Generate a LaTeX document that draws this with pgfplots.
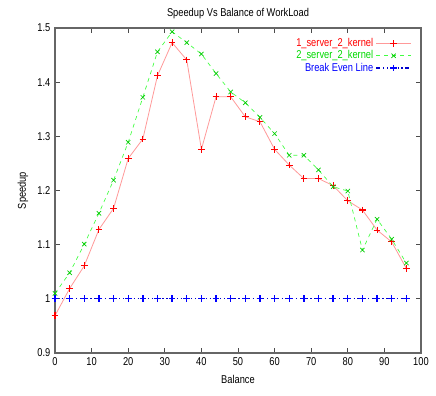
\documentclass[border=0pt]{standalone}
\usepackage{pgfplots}
\pgfplotsset{compat=1.18}
\usepackage{fontspec}
\setmainfont{Liberation Sans}[FakeStretch=0.82]
\begin{document}
\begin{tikzpicture}[x=0.75pt,y=0.75pt]
\begin{axis}[
  name=ax,
  scale only axis,
  width=274.5pt, height=243.75pt,
  xmin=0, xmax=100, ymin=0.9, ymax=1.5,
  xtick={0,10,...,100}, ytick={0.9,1,1.1,1.2,1.3,1.4,1.5},
  tick align=inside,
  major tick length=4pt,
  axis line style={draw=black!60, line width=1pt},
  tick style={black!70, line width=0.6pt},
  ticklabel style={font=\fontsize{8.5}{9}\selectfont},
  /pgf/number format/assume math mode=true,
  title={Speedup Vs Balance of WorkLoad},
  title style={font=\fontsize{8.5}{9}\selectfont, yshift=-3pt},
  xlabel={Balance}, ylabel={Speedup},
  label style={font=\fontsize{8.5}{9}\selectfont},
  legend style={draw=none, fill=none, at={(0.985,0.985)}, anchor=north east,
    font=\fontsize{8.5}{9}\selectfont, row sep=-2.5pt},
  legend cell align=right,
  legend plot pos=right,
  legend image code/.code={\draw[#1, mark=none] (0cm,0cm) -- (0.9cm,0cm);
    \draw[#1, only marks] plot coordinates {(0.45cm,0cm)};},
]
\addplot[color=red!40, line width=0.6pt, mark=+, mark size=2.5pt,
  mark options={draw=red, solid, line width=0.8pt}] coordinates {
(0,0.969) (4,1.019) (8,1.061) (12,1.128) (16,1.167) (20,1.259) (24,1.295)
(28,1.412) (32,1.473) (36,1.441) (40,1.276) (44,1.373) (48,1.373) (52,1.336)
(56,1.327) (60,1.276) (64,1.247) (68,1.222) (72,1.222) (76,1.209) (80,1.181)
(84,1.164) (88,1.127) (92,1.105) (96,1.056)};
\addlegendentry{\textcolor{red}{1\_server\_2\_kernel}}
\addplot[color=green!75!white, line width=0.5pt, dashed, mark=x, mark size=2.3pt,
  mark options={draw=green!80!black, solid, line width=0.5pt}] coordinates {
(0,1.010) (4,1.048) (8,1.101) (12,1.158) (16,1.219) (20,1.289) (24,1.372)
(28,1.456) (32,1.493) (36,1.473) (40,1.452) (44,1.416) (48,1.382) (52,1.362)
(56,1.335) (60,1.305) (64,1.265) (68,1.265) (72,1.238) (76,1.207) (80,1.199)
(84,1.090) (88,1.147) (92,1.110) (96,1.066)};
\addlegendentry{\textcolor{green!85!black}{2\_server\_2\_kernel}}
\addplot[color=blue!80!black, line width=0.9pt, dash dot dot, mark=+, mark size=2.5pt,
  mark options={draw=blue, solid, line width=1pt}] coordinates {
(0,1) (4,1) (8,1) (12,1) (16,1) (20,1) (24,1) (28,1) (32,1) (36,1) (40,1)
(44,1) (48,1) (52,1) (56,1) (60,1) (64,1) (68,1) (72,1) (76,1) (80,1) (84,1)
(88,1) (92,1) (96,1)};
\addlegendentry{\textcolor{blue}{Break Even Line}}
\end{axis}
\path[use as bounding box] ([shift={(-55,-43)}]ax.south west) rectangle ([shift={(15,28)}]ax.north east);
\end{tikzpicture}
\end{document}
